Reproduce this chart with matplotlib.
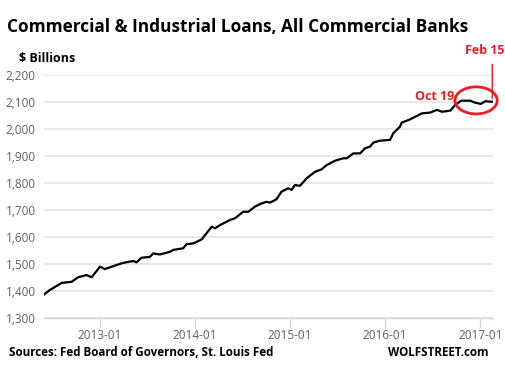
import numpy as np
import pandas as pd
import matplotlib
matplotlib.use("Agg")
import matplotlib.pyplot as plt
import matplotlib.dates as mdates
from matplotlib.patches import Ellipse
from matplotlib.ticker import FuncFormatter

# values ($ billions)
dates = ['2012-06-01', '2012-06-24', '2012-08-08', '2012-09-15', '2012-10-10',
         '2012-11-11', '2012-12-01', '2013-01-02', '2013-01-20', '2013-03-06',
         '2013-04-01', '2013-05-09', '2013-05-22', '2013-06-10', '2013-07-12',
         '2013-07-25', '2013-08-20', '2013-09-27', '2013-10-10', '2013-11-17',
         '2013-11-30', '2013-12-26', '2014-01-08', '2014-01-27', '2014-02-15',
         '2014-03-07', '2014-03-19', '2014-04-08', '2014-04-20', '2014-05-16',
         '2014-06-04', '2014-07-05', '2014-07-25', '2014-08-19', '2014-09-14',
         '2014-10-03', '2014-10-16', '2014-11-10', '2014-11-29', '2014-12-25',
         '2015-01-07', '2015-01-20', '2015-02-08', '2015-03-06', '2015-04-07',
         '2015-05-02', '2015-05-22', '2015-06-23', '2015-07-25', '2015-08-07',
         '2015-09-01', '2015-09-27', '2015-10-16', '2015-11-04', '2015-11-17',
         '2015-12-12', '2016-01-20', '2016-02-01', '2016-02-27', '2016-03-05',
         '2016-04-06', '2016-05-21', '2016-06-22', '2016-07-18', '2016-08-06',
         '2016-09-07', '2016-09-26', '2016-10-19', '2016-11-23', '2016-12-10',
         '2017-01-02', '2017-01-20', '2017-02-15']
loans = [1388, 1405, 1431, 1435, 1452,
         1460, 1452, 1491, 1482, 1497,
         1505, 1512, 1507, 1524, 1527,
         1540, 1536, 1546, 1553, 1559,
         1574, 1577, 1583, 1592, 1615,
         1639, 1633, 1645, 1651, 1664,
         1670, 1694, 1694, 1713, 1725,
         1731, 1728, 1740, 1768, 1781,
         1775, 1793, 1790, 1818, 1842,
         1851, 1867, 1883, 1892, 1892,
         1910, 1910, 1929, 1935, 1950,
         1957, 1960, 1984, 2009, 2024,
         2036, 2058, 2061, 2071, 2064,
         2068, 2089, 2105, 2105, 2098,
         2093, 2103, 2101]

y_ticks = [1300, 1400, 1500, 1600, 1700, 1800, 1900, 2000, 2100, 2200]
x_ticks = ['2013-01-01', '2014-01-01', '2015-01-01', '2016-01-01', '2017-01-01']

RED = '#ee1c25'
FONT = 'Open Sans'

W, H = 505, 374
fig = plt.figure(figsize=(W / 100, H / 100), dpi=100)
ax = fig.add_axes([44 / W, 1 - 318.3 / H, (493 - 44) / W, (318.3 - 75) / H])

d = pd.to_datetime(dates)
ax.plot(d, loans, color='black', linewidth=1.6, zorder=3)

ax.set_xlim(pd.Timestamp('2012-06-01'), pd.Timestamp('2017-02-18'))
ax.set_ylim(1300, 2200)

# grid and axes styling (highcharts look)
ax.set_yticks(y_ticks)
ax.yaxis.set_major_formatter(FuncFormatter(lambda v, p: f'{int(v):,}'))
ax.grid(axis='y', color='#e6e6e6', linewidth=1.3)
ax.set_axisbelow(True)
for s in ['top', 'right', 'left']:
    ax.spines[s].set_visible(False)
ax.spines['bottom'].set_color('#ccd6eb')
ax.spines['bottom'].set_linewidth(1.0)

ax.set_xticks(pd.to_datetime(x_ticks))
ax.xaxis.set_major_formatter(mdates.DateFormatter('%Y-%m'))
ax.tick_params(axis='x', length=7, width=0.9, color='#ccd6eb', pad=1,
               labelsize=8.5, labelcolor='#606060')
ax.tick_params(axis='y', length=0, pad=6, labelsize=8.5, labelcolor='#606060')
for lab in ax.get_xticklabels() + ax.get_yticklabels():
    lab.set_fontfamily(FONT)

# annotations
feb15 = pd.Timestamp('2017-02-15')
circ = Ellipse((pd.Timestamp('2016-12-15'), 2106), width=162, height=100,
               fill=False, edgecolor=RED, linewidth=2.0, clip_on=False, zorder=4)
ax.add_patch(circ)
ax.annotate('', xy=(feb15, 2103), xytext=(feb15, 2250),
            arrowprops=dict(arrowstyle='-', color=RED, lw=1.0), annotation_clip=False)
ax.text(pd.Timestamp('2017-01-19'), 2265, 'Feb 15', color=RED, fontsize=9,
        fontweight='bold', fontfamily=FONT, ha='center', va='bottom')
ax.annotate('Oct 19', xy=(pd.Timestamp('2016-10-14'), 2105),
            xytext=(pd.Timestamp('2016-09-22'), 2120), color=RED, fontsize=9,
            fontweight='bold', fontfamily=FONT, ha='right', va='center',
            arrowprops=dict(arrowstyle='-', color=RED, lw=0.8))

# texts
fig.text(7 / W, 1 - 27 / H, 'Commercial & Industrial Loans, All Commercial Banks',
         fontsize=12.4, fontweight='bold', fontfamily=FONT, va='center', ha='left')
fig.text(19 / W, 1 - 58 / H, '$ Billions', fontsize=9, fontweight='bold',
         fontfamily=FONT, va='center', ha='left')
fig.text(9 / W, 1 - 352 / H, 'Sources: Fed Board of Governors, St. Louis Fed',
         fontsize=8.4, fontweight='bold', fontfamily=FONT, va='center', ha='left')
fig.text(489 / W, 1 - 352 / H, 'WOLFSTREET.com', fontsize=8.4, fontweight='bold',
         fontfamily=FONT, va='center', ha='right')

fig.savefig('out.png', dpi=100, facecolor='white')
